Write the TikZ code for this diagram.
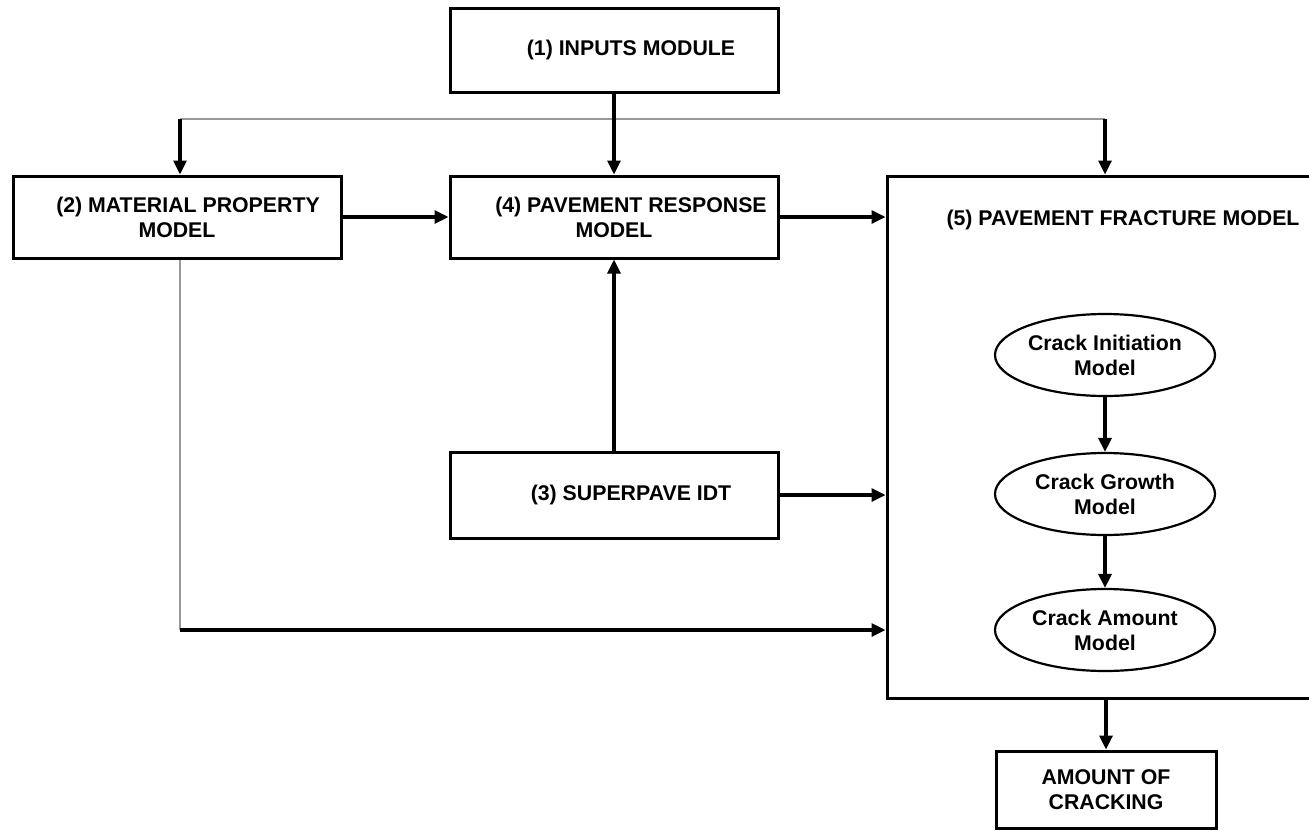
\documentclass[tikz,border=0pt]{standalone}
\usepackage{fontspec}
\setmainfont{Liberation Sans}
\usetikzlibrary{arrows.meta,shapes.geometric}
\begin{document}
\begin{tikzpicture}[x=1pt,y=-1pt,
  font=\fontsize{21.3}{25}\selectfont\bfseries,
  boxnode/.style={draw=black,line width=3pt,rectangle,inner sep=0pt,align=center},
  ell/.style={draw=black,line width=2.2pt,ellipse,minimum width=220pt,minimum height=82pt,inner sep=0pt,align=center},
  arr/.style={line width=3.2pt,-{Triangle[length=14pt,width=13pt]}},
  grayline/.style={line width=2pt,draw=black!40}]
\useasboundingbox (0,0) rectangle (1309,830);
% boxes
\node[boxnode,minimum width=328pt,minimum height=84pt] (box1) at (614,50) {\hspace*{34pt}(1) INPUTS MODULE};
\node[boxnode,minimum width=328pt,minimum height=82pt] (box2) at (177,217) {\hspace*{22pt}(2) MATERIAL PROPERTY\\MODEL};
\node[boxnode,minimum width=328pt,minimum height=82pt] (box4) at (614,217) {\hspace*{34pt}(4) PAVEMENT RESPONSE\\MODEL};
\node[boxnode,minimum width=328pt,minimum height=86pt] (box3) at (614,495) {\hspace*{34pt}(3) SUPERPAVE IDT};
\node[boxnode,minimum width=432pt,minimum height=522pt] (box5) at (1103,437) {};
\node (t5) at (1123,220) {(5) PAVEMENT FRACTURE MODEL};
% ellipses
\node[ell] (e1) at (1105,355) {Crack Initiation\\Model};
\node[ell] (e2) at (1105,494) {Crack Growth\\Model};
\node[ell] (e3) at (1105,630) {Crack Amount\\Model};
% output
\node[boxnode,minimum width=220pt,minimum height=77pt] (amt) at (1106,789.5) {AMOUNT OF\\CRACKING};
% coordinates
\coordinate (busL) at (180,119);
\coordinate (busR) at (1105,119);
\coordinate (corner) at (180,630);
% connectors
\draw[grayline] (busL) -- (busR);
\draw[arr] (busL) -- (busL |- box2.north);
\draw[arr] (busR) -- (busR |- box5.north);
\draw[arr] (box1.south) -- (box4.north);
\draw[arr] (box2.east) -- (box4.west);
\draw[arr] (box4.east) -- (box4.east -| box5.west);
\draw[arr] (box3.north) -- (box4.south);
\draw[arr] (box3.east) -- (box3.east -| box5.west);
\draw[grayline] (busL |- box2.south) -- (corner);
\draw[arr] (corner) -- (corner -| box5.west);
\draw[arr] (e1) -- (e2);
\draw[arr] (e2) -- (e3);
\draw[arr] (amt.north |- box5.south) -- (amt.north);
\end{tikzpicture}
\end{document}
